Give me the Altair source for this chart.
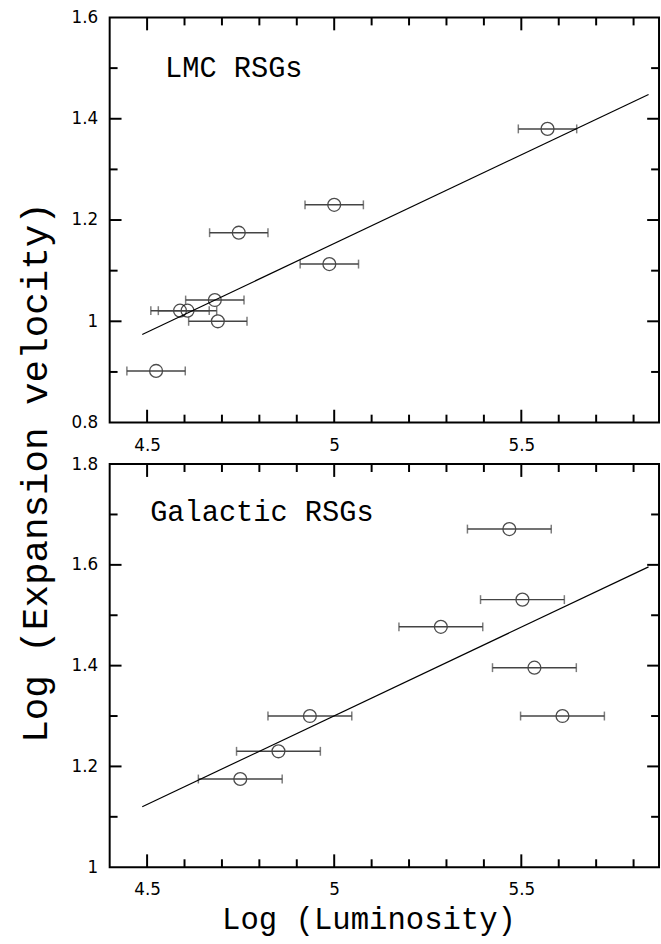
import altair as alt
import pandas as pd

# ---- data ----
lmc_lum = [5.570, 5.000, 4.745, 4.987, 4.681, 4.588, 4.608, 4.689, 4.524]
lmc_vel = [1.380, 1.230, 1.175, 1.113, 1.042, 1.021, 1.021, 1.000, 0.902]
lmc_err = [0.078, 0.078, 0.078, 0.078, 0.078, 0.078, 0.078, 0.078, 0.078]
lmc_fit_lum = [4.487, 5.840]
lmc_fit_vel = [0.974, 1.448]

gal_lum = [5.468, 5.503, 5.285, 5.535, 5.610, 4.935, 4.851, 4.749]
gal_vel = [1.671, 1.531, 1.477, 1.396, 1.300, 1.300, 1.230, 1.175]
gal_err = [0.112, 0.112, 0.112, 0.112, 0.112, 0.112, 0.112, 0.112]
gal_fit_lum = [4.487, 5.840]
gal_fit_vel = [1.120, 1.596]

x_label_ticks = [4.5, 5.0, 5.5]
x_minor_ticks = [4.6, 4.7, 4.8, 4.9, 5.1, 5.2, 5.3, 5.4, 5.6, 5.7, 5.8]
lmc_y_labels = [0.8, 1.0, 1.2, 1.4, 1.6]
lmc_y_major = [1.0, 1.2, 1.4]
lmc_y_minor = [0.9, 1.1, 1.3, 1.5]
gal_y_labels = [1.0, 1.2, 1.4, 1.6, 1.8]
gal_y_major = [1.2, 1.4, 1.6]
gal_y_minor = [1.1, 1.3, 1.5, 1.7]

X_DOMAIN = [4.4, 5.868]
W = 556
TICK_FONT = "DejaVu Sans"
TEXT_FONT = "Liberation Mono"


def panel(lum, vel, err, fit_lum, fit_vel, ydom, ylabels, ymaj, ymin, H,
          label, lx, ly, bottom):
    xs = alt.Scale(domain=X_DOMAIN, nice=False, zero=False)
    ys = alt.Scale(domain=ydom, nice=False, zero=False)
    df = pd.DataFrame({
        "lum": lum, "vel": vel,
        "lo": [a - e for a, e in zip(lum, err)],
        "hi": [a + e for a, e in zip(lum, err)],
    })
    fit = pd.DataFrame({"lum": fit_lum, "vel": fit_vel})

    xkw = dict(values=x_label_ticks, format="~g", ticks=False, tickSize=0,
               domain=False, grid=False, labelFont=TICK_FONT,
               labelFontSize=17, labelColor="black", labelPadding=15)
    ykw = dict(values=ylabels, format="~g", ticks=False, tickSize=0,
               domain=False, grid=False, labelFont=TICK_FONT,
               labelFontSize=17, labelColor="black", labelPadding=12)
    if bottom:
        xaxis = alt.Axis(titleFont=TEXT_FONT, titleFontSize=31,
                         titleFontWeight="normal", titleColor="black",
                         titleX=262, titleY=62, titleAlign="center",
                         titleBaseline="alphabetic", **xkw)
        yaxis = alt.Axis(titleFont=TEXT_FONT, titleFontSize=38,
                         titleFontWeight="normal", titleColor="black",
                         titleAngle=270, titleX=-75, titleY=8,
                         titleAlign="center", titleBaseline="middle", **ykw)

        def X(f):
            return alt.X(f, scale=xs, axis=xaxis, title="Log (Luminosity)")

        def Y(f):
            return alt.Y(f, scale=ys, axis=yaxis, title="Log (Expansion velocity)")
    else:
        xaxis = alt.Axis(**xkw)
        yaxis = alt.Axis(**ykw)

        def X(f):
            return alt.X(f, scale=xs, axis=xaxis, title=None)

        def Y(f):
            return alt.Y(f, scale=ys, axis=yaxis, title=None)

    pts = alt.Chart(df).mark_point(shape="circle", filled=False, size=170,
                                   color="black", strokeWidth=1.3).encode(
        x=X("lum:Q"), y=Y("vel:Q"))
    bars = alt.Chart(df).mark_rule(color="#444444", strokeWidth=1.5).encode(
        x=X("lo:Q"), x2="hi:Q", y=Y("vel:Q"))
    cap_lo = alt.Chart(df).mark_tick(orient="vertical", size=9, thickness=1.5,
                                     color="#444444").encode(
        x=X("lo:Q"), y=Y("vel:Q"))
    cap_hi = alt.Chart(df).mark_tick(orient="vertical", size=9, thickness=1.5,
                                     color="#444444").encode(
        x=X("hi:Q"), y=Y("vel:Q"))
    line = alt.Chart(fit).mark_line(color="black", strokeWidth=1.2).encode(
        x=X("lum:Q"), y=Y("vel:Q"))

    xmaj = pd.DataFrame({"t": x_label_ticks})
    xmin = pd.DataFrame({"t": x_minor_ticks})
    ymj = pd.DataFrame({"t": ymaj})
    ymn = pd.DataFrame({"t": ymin})

    def xt(d, y0, y1):
        return alt.Chart(d).mark_rule(color="black", strokeWidth=2).encode(
            x=X("t:Q"), y=alt.value(y0), y2=alt.value(y1))

    def yt(d, x0, x1):
        return alt.Chart(d).mark_rule(color="black", strokeWidth=2).encode(
            y=Y("t:Q"), x=alt.value(x0), x2=alt.value(x1))

    ticks = [
        xt(xmaj, 0, 13), xt(xmin, 0, 8), xt(xmaj, H, H - 13), xt(xmin, H, H - 8),
        yt(ymj, 0, 12), yt(ymn, 0, 8), yt(ymj, W, W - 12), yt(ymn, W, W - 8),
    ]

    txt = alt.Chart(pd.DataFrame({"label": [label]})).mark_text(
        align="left", baseline="alphabetic", font=TEXT_FONT, fontSize=29,
        color="black").encode(x=alt.value(lx), y=alt.value(ly), text="label:N")

    return alt.layer(pts, bars, cap_lo, cap_hi, line, *ticks, txt).properties(
        width=W, height=H)


top = panel(lmc_lum, lmc_vel, lmc_err, lmc_fit_lum, lmc_fit_vel, [0.8, 1.6],
            lmc_y_labels, lmc_y_major, lmc_y_minor, 410, "LMC RSGs", 56, 60, False)
bot = panel(gal_lum, gal_vel, gal_err, gal_fit_lum, gal_fit_vel, [1.0, 1.8],
            gal_y_labels, gal_y_major, gal_y_minor, 408, "Galactic RSGs", 41, 58, True)

chart = alt.vconcat(top, bot, spacing=42, bounds="flush").properties(
    padding={"left": 15, "top": 2, "right": 0, "bottom": 0},
    background="white",
).configure_view(stroke="black", strokeWidth=2)

chart.save("out.html", embed_options={"renderer": "svg", "actions": False})
